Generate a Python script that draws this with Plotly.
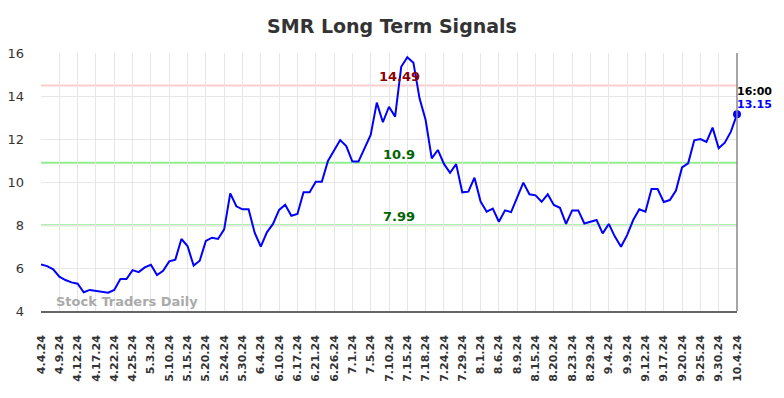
import plotly.graph_objects as go

title = "SMR Long Term Signals"
tick_labels = ["4.4.24", "4.9.24", "4.12.24", "4.17.24", "4.22.24", "4.25.24", "5.3.24", "5.10.24",
               "5.15.24", "5.20.24", "5.24.24", "5.30.24", "6.4.24", "6.10.24", "6.17.24", "6.21.24",
               "6.26.24", "7.1.24", "7.5.24", "7.10.24", "7.15.24", "7.18.24", "7.24.24", "7.29.24",
               "8.1.24", "8.6.24", "8.9.24", "8.15.24", "8.20.24", "8.23.24", "8.29.24", "9.4.24",
               "9.9.24", "9.12.24", "9.17.24", "9.20.24", "9.25.24", "9.30.24", "10.4.24"]
prices = [6.17, 6.09, 5.94, 5.60, 5.44, 5.33, 5.27, 4.87, 4.98, 4.93,
          4.90, 4.85, 4.98, 5.49, 5.49, 5.90, 5.81, 6.03, 6.15, 5.67,
          5.87, 6.31, 6.39, 7.35, 7.02, 6.11, 6.34, 7.26, 7.41, 7.35,
          7.80, 9.47, 8.87, 8.73, 8.73, 7.64, 6.99, 7.66, 8.05, 8.70,
          8.94, 8.43, 8.51, 9.52, 9.52, 10.01, 10.01, 10.98, 11.46, 11.95,
          11.67, 10.95, 10.95, 11.61, 12.19, 13.69, 12.78, 13.50, 13.04, 15.36,
          15.80, 15.55, 13.89, 12.88, 11.10, 11.49, 10.84, 10.43, 10.83, 9.52,
          9.55, 10.20, 9.09, 8.62, 8.76, 8.15, 8.68, 8.60, 9.29, 9.97,
          9.43, 9.38, 9.08, 9.43, 8.93, 8.80, 8.05, 8.68, 8.68, 8.07,
          8.15, 8.23, 7.61, 8.05, 7.46, 6.99, 7.53, 8.23, 8.73, 8.62,
          9.67, 9.67, 9.07, 9.16, 9.60, 10.68, 10.87, 11.94, 12.00, 11.87,
          12.53, 11.57, 11.83, 12.34, 13.15]
resistance = 14.49
support_high = 10.9
support_low = 7.99
last_time = "16:00"
y_ticks = [4, 6, 8, 10, 12, 14, 16]

x_idx = list(range(len(prices)))
tick_vals = x_idx[::3]

font_family = "DejaVu Sans"
fig = go.Figure()

for level, col in [(resistance, "#ffcccc"), (support_high, "#90ee90"), (support_low, "#90ee90")]:
    fig.add_shape(type="line", xref="paper", x0=0, x1=1, yref="y", y0=level, y1=level,
                  line=dict(color=col, width=2), layer="below")

fig.add_trace(go.Scatter(x=x_idx, y=prices, mode="lines",
                         line=dict(color="#0000ff", width=2), hoverinfo="skip", cliponaxis=False))
fig.add_trace(go.Scatter(x=[x_idx[-1]], y=[prices[-1]], mode="markers",
                         marker=dict(color="#0000ff", size=8), hoverinfo="skip", cliponaxis=False))

anns = [
    dict(text=f"<b>{resistance}</b>", x=0.515, xref="paper", y=resistance, yref="y",
         yanchor="bottom", showarrow=False, yshift=-1, font=dict(color="#8b0000", size=13, family=font_family)),
    dict(text=f"<b>{support_high:g}</b>", x=0.515, xref="paper", y=support_high, yref="y",
         yanchor="bottom", showarrow=False, yshift=-1, font=dict(color="#006400", size=13, family=font_family)),
    dict(text=f"<b>{support_low}</b>", x=0.515, xref="paper", y=support_low, yref="y",
         yanchor="bottom", showarrow=False, yshift=-1, font=dict(color="#006400", size=13, family=font_family)),
    dict(text=f"<b>{last_time}</b>", x=x_idx[-1], y=prices[-1], xanchor="left", yanchor="middle",
         showarrow=False, yshift=23, xshift=-2, font=dict(color="#000000", size=11, family=font_family)),
    dict(text=f"<b>{prices[-1]}</b>", x=x_idx[-1], y=prices[-1], xanchor="left", yanchor="middle",
         showarrow=False, yshift=10, xshift=-2, font=dict(color="#0000ff", size=11, family=font_family)),
    dict(text="<b>Stock Traders Daily</b>", x=0.018, xref="paper", y=0.035, yref="paper",
         xanchor="left", yanchor="middle", showarrow=False,
         font=dict(color="#aaaaaa", size=13, family=font_family)),
]

fig.update_layout(
    width=784, height=398,
    margin=dict(l=41, r=47, t=53, b=87),
    paper_bgcolor="white", plot_bgcolor="white",
    showlegend=False,
    title=dict(text=f"<b>{title}</b>", x=0.5, xanchor="center", y=0.935, yanchor="middle",
               font=dict(size=19, color="#333333", family=font_family)),
    annotations=anns,
    font=dict(family=font_family, color="#333333"),
)
fig.update_xaxes(range=[0, len(prices) - 1], tickvals=tick_vals, ticktext=[f"<b>{t}</b>" for t in tick_labels],
                 tickangle=-90, tickfont=dict(size=11, color="#333333", family=font_family),
                 showgrid=True, gridcolor="#e6e6e6", gridwidth=1, zeroline=False,
                 showline=True, linecolor="#666666", linewidth=1.5, mirror=False,
                 ticks="", ticklabelstandoff=18, automargin=False)
fig.update_yaxes(range=[4, 16], tickvals=y_ticks, tickfont=dict(size=13, color="#333333", family=font_family),
                 showgrid=True, gridcolor="#e6e6e6", gridwidth=1, zeroline=False, showline=False,
                 ticks="", ticklabelstandoff=16, automargin=False)
fig.add_shape(type="line", xref="paper", x0=1, x1=1, yref="paper", y0=0, y1=1,
              line=dict(color="#888888", width=1.5))

fig.write_html("out.html", config={"displayModeBar": False},
               post_script="document.body.style.margin='0';document.body.style.overflow='hidden';")
